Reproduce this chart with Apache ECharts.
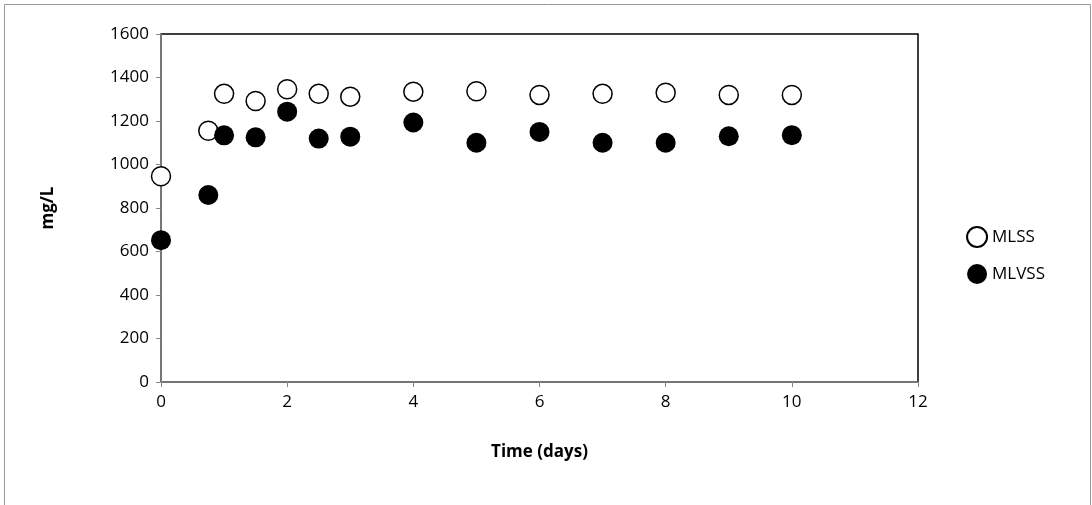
<!DOCTYPE html>
<html lang="en" style="height: 100%">
<head>
  <meta charset="utf-8">
</head>
<body style="height: 100%; margin: 0">
  <div id="container" style="height: 100%"></div>
  <script type="text/javascript" src="https://cdn.jsdelivr.net/npm/echarts@6/dist/echarts.min.js"></script>
  <script type="text/javascript">
    const days = [0, 0.75, 1, 1.5, 2, 2.5, 3, 4, 5, 6, 7, 8, 9, 10];
    const mlss = [946, 1155, 1325, 1292, 1346, 1325, 1312, 1335, 1337, 1320, 1325, 1330, 1320, 1320];
    const mlvss = [652, 860, 1134, 1125, 1243, 1119, 1128, 1193, 1100, 1150, 1100, 1100, 1130, 1135];

    var myChart = echarts.init(document.getElementById('container'), null, { renderer: 'canvas' });
    const font = 'Open Sans';
    var option = {
      animation: false,
      textStyle: { fontFamily: font },
      grid: { left: 161, right: 174, top: 34, bottom: 123, show: true, borderColor: '#000', borderWidth: 1.5 },
      graphic: [{
        type: 'rect', left: 2, top: 2,
        shape: { width: 1086, height: 520 },
        style: { fill: 'none', stroke: '#999', lineWidth: 1 }
      }],
      legend: {
        orient: 'vertical', right: 42, top: 221, itemGap: 17,
        itemWidth: 20, itemHeight: 20, itemGap: 16,
        textStyle: { fontSize: 17, color: '#000', fontFamily: font },
        data: ['MLSS', 'MLVSS']
      },
      xAxis: {
        type: 'value', min: 0, max: 12, interval: 2,
        name: 'Time (days)', nameLocation: 'middle', nameGap: 62,
        nameTextStyle: { fontSize: 17, fontWeight: 'bold', color: '#000' },
        axisLine: { lineStyle: { color: '#888', width: 1.5 } },
        axisTick: { show: true, lineStyle: { color: '#888' }, length: 5 },
        axisLabel: { fontSize: 17, color: '#000', margin: 12 },
        splitLine: { show: false }
      },
      yAxis: {
        type: 'value', min: 0, max: 1600, interval: 200,
        name: 'mg/L', nameLocation: 'middle', nameGap: 104,
        nameTextStyle: { fontSize: 17, fontWeight: 'bold', color: '#000' },
        axisLine: { show: true, lineStyle: { color: '#888', width: 1.5 } },
        axisTick: { show: true, lineStyle: { color: '#888' }, length: 5 },
        axisLabel: { fontSize: 17, color: '#000', margin: 12, formatter: v => String(v) },
        splitLine: { show: false }
      },
      series: [
        {
          name: 'MLSS', type: 'scatter', symbol: 'circle', symbolSize: 19,
          itemStyle: { color: '#fff', borderColor: '#000', borderWidth: 1.5, opacity: 1 },
          data: days.map((d, i) => [d, mlss[i]])
        },
        {
          name: 'MLVSS', type: 'scatter', symbol: 'circle', symbolSize: 20,
          itemStyle: { color: '#000', opacity: 1 },
          data: days.map((d, i) => [d, mlvss[i]])
        }
      ]
    };
    myChart.setOption(option);
    window.addEventListener('resize', myChart.resize);
  </script>
</body>
</html>
